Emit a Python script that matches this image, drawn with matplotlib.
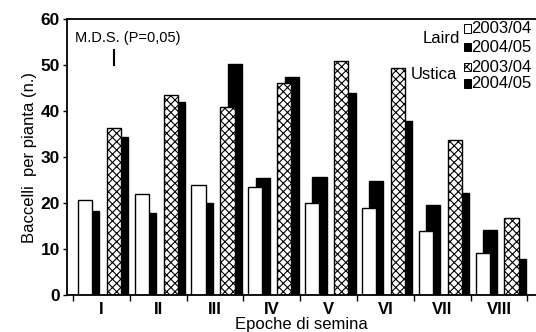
import numpy as np
import matplotlib
matplotlib.use('Agg')
import matplotlib.pyplot as plt

plt.rcParams['font.family'] = ['Liberation Sans', 'DejaVu Sans']
plt.rcParams['hatch.linewidth'] = 0.8

# Baccelli per pianta, per epoca di semina
epoche = ['I', 'II', 'III', 'IV', 'V', 'VI', 'VII', 'VIII']
laird_0304 = [20.8, 22.0, 24.0, 23.6, 20.0, 19.0, 14.0, 9.2]
laird_0405 = [18.3, 18.0, 20.1, 25.5, 25.7, 24.8, 19.7, 14.2]
ustica_0304 = [36.4, 43.5, 40.8, 46.0, 50.9, 49.3, 33.8, 16.8]
ustica_0405 = [34.3, 42.0, 50.3, 47.4, 44.0, 37.8, 22.2, 8.0]
mds = 3.3

x = np.arange(len(epoche))
w = 0.25

fig = plt.figure(figsize=(5.36, 3.32), dpi=100)
ax = fig.add_axes([0.125, 0.11, 0.875, 0.833])

ax.bar(x - 0.16, laird_0405, w, color='black', edgecolor='black', lw=1, zorder=1)
ax.bar(x - 0.29, laird_0304, w, color='white', edgecolor='black', lw=1, zorder=2)
ax.bar(x + 0.35, ustica_0405, w, color='black', edgecolor='black', lw=1, zorder=1)
ax.bar(x + 0.22, ustica_0304, w, color='white', edgecolor='black', lw=1,
       hatch='xxxx', zorder=2)

ax.set_xlim(-0.606, 7.65)
ax.set_ylim(0, 60)
ax.set_yticks([0, 10, 20, 30, 40, 50, 60])
ax.set_yticklabels(['0', '10', '20', '30', '40', '50', '60'], fontweight='bold', fontsize=12.5)
ax.set_xticks(x)
ax.set_xticklabels(epoche, fontweight='bold', fontsize=12)
ax.set_xticks(np.arange(-0.5, 8.0, 1.0), minor=True)
ax.tick_params(axis='x', which='major', length=0, pad=5)
ax.tick_params(axis='x', which='minor', length=4, direction='out', width=1)
ax.tick_params(axis='y', length=3, direction='out', width=1, pad=2)
for s in ['left', 'bottom', 'top']:
    ax.spines[s].set_linewidth(1.3)
ax.spines['right'].set_visible(False)

ax.set_xlabel('Epoche di semina', fontsize=12, labelpad=0)
ax.set_ylabel('Baccelli  per pianta (n.)', fontsize=12, labelpad=3)

# M.D.S.
ax.text(0.017, 0.93, 'M.D.S. (P=0,05)', transform=ax.transAxes, fontsize=10.5,
        va='center', ha='left')
ax.plot([0.22, 0.22], [50.0, 50.0 + mds], color='black', lw=1.5)

# legenda
fig.text(0.858, 0.885, 'Laird', fontsize=12, ha='right', va='center')
fig.text(0.852, 0.775, 'Ustica', fontsize=12, ha='right', va='center')
items = [('white', None, '2003/04', 0.915), ('black', None, '2004/05', 0.858),
         ('white', 'xxxx', '2003/04', 0.798), ('black', None, '2004/05', 0.748)]
for col, h, lab, yy in items:
    r = plt.Rectangle((0.865, yy - 0.013), 0.013, 0.026, transform=fig.transFigure,
                      facecolor=col, edgecolor='black', lw=0.7, hatch=h)
    fig.patches.append(r)
    fig.text(0.879, yy, lab, fontsize=12, ha='left', va='center')

fig.savefig('out.png', dpi=100)
